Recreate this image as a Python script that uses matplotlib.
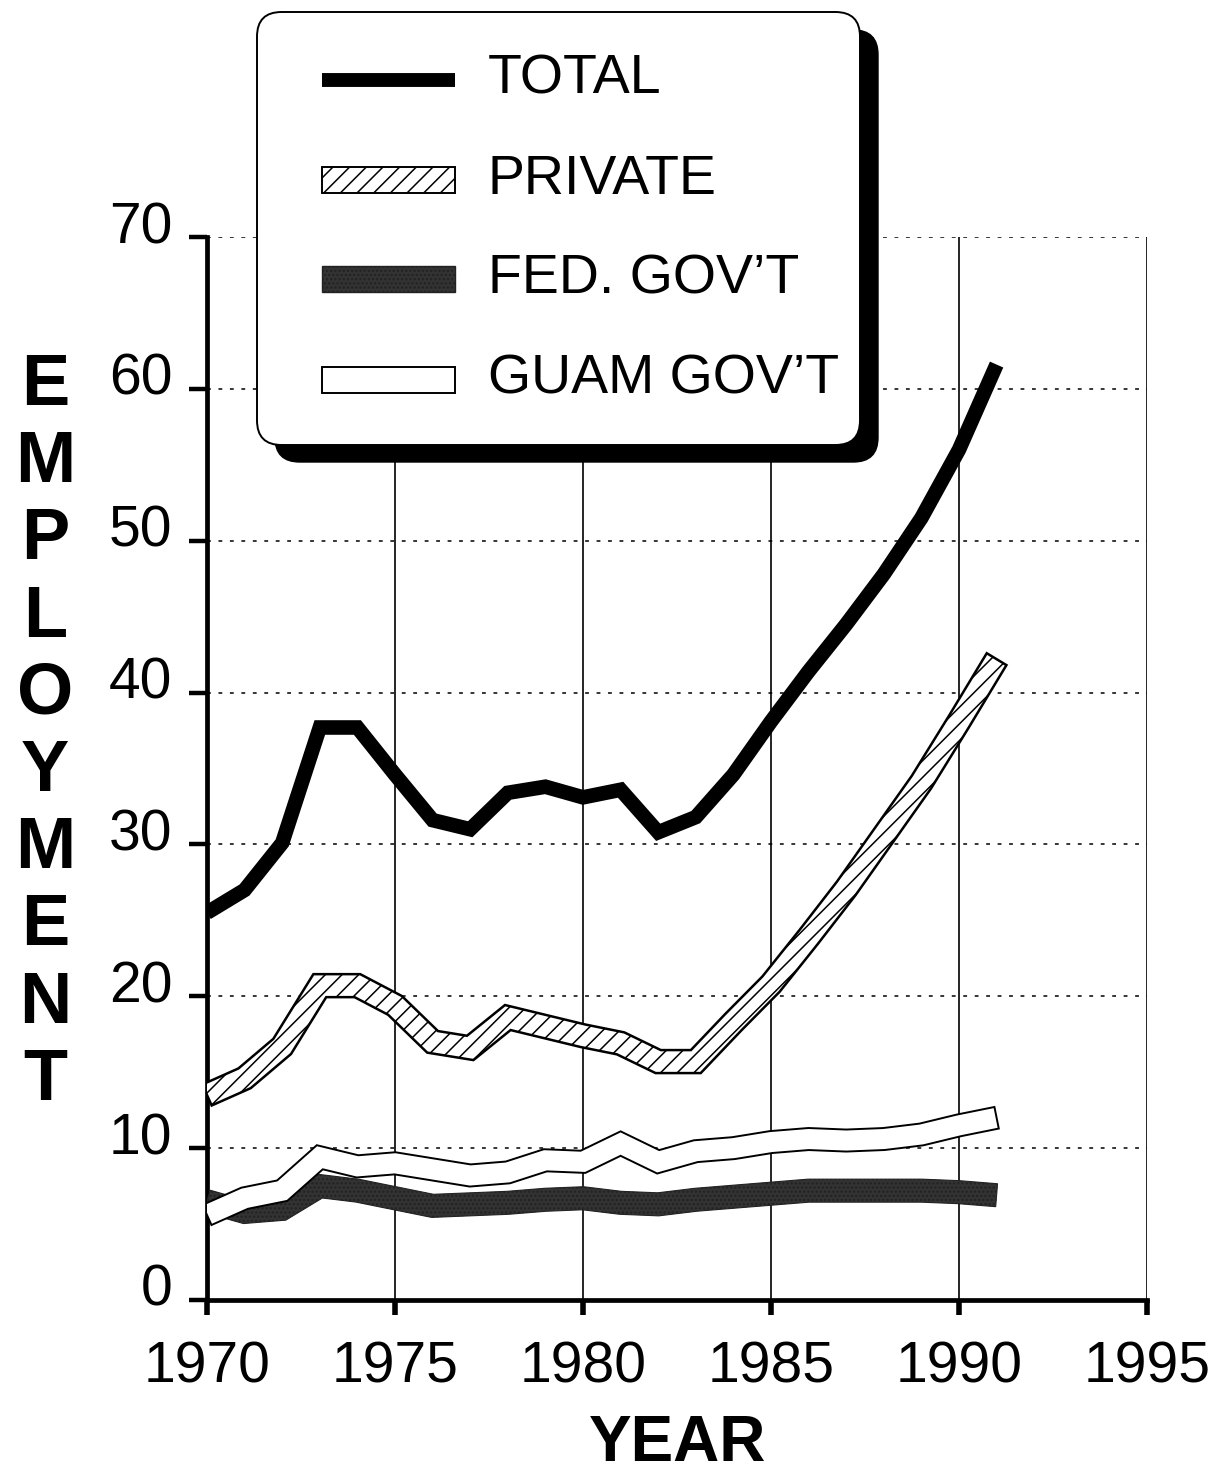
import numpy as np
import matplotlib
matplotlib.use("Agg")
import matplotlib.pyplot as plt
from matplotlib.patches import Polygon, FancyBboxPatch, Rectangle
from matplotlib.lines import Line2D
import matplotlib.transforms as mtransforms

plt.rcParams['font.family'] = ['Liberation Sans', 'DejaVu Sans']
plt.rcParams['hatch.linewidth'] = 1.1

# ============== data (thousands of jobs) ==============
years = np.arange(1970, 1992)
total = [25.5, 27.0, 30.1, 37.7, 37.7, 34.6, 31.6, 31.0, 33.4, 33.8, 33.1,
         33.6, 30.8, 31.8, 34.6, 38.1, 41.4, 44.5, 47.8, 51.5, 56.0, 61.6]
private = [13.5, 14.6, 16.7, 20.7, 20.7, 19.4, 17.0, 16.6, 18.6, 18.0, 17.4,
           16.9, 15.7, 15.7, 18.3, 20.8, 23.9, 27.1, 30.6, 34.1, 38.1, 42.2]
fed_gov = [6.5, 5.8, 6.0, 7.5, 7.2, 6.7, 6.2, 6.3, 6.4, 6.6, 6.7,
           6.4, 6.3, 6.6, 6.8, 7.0, 7.2, 7.2, 7.2, 7.2, 7.1, 6.9]
guam_gov = [5.6, 6.7, 7.2, 9.4, 8.8, 9.0, 8.6, 8.2, 8.4, 9.2, 9.1,
            10.3, 9.1, 9.8, 10.0, 10.4, 10.6, 10.5, 10.6, 10.9, 11.5, 12.0]

x_ticks = [1970, 1975, 1980, 1985, 1990, 1995]
y_ticks = [0, 10, 20, 30, 40, 50, 60, 70]
labels = ['TOTAL', 'PRIVATE', "FED. GOV\u2019T", "GUAM GOV\u2019T"]


def band(ax, xs, ys, width_px):
    # outline of a thick stroke, built in pixel space and mapped back to data
    pts = ax.transData.transform(np.column_stack([xs, ys]))
    n = len(pts)
    seg = np.diff(pts, axis=0)
    seg_n = np.column_stack([-seg[:, 1], seg[:, 0]])
    seg_n /= np.linalg.norm(seg_n, axis=1)[:, None]
    normals = np.zeros_like(pts)
    for i in range(n):
        if i == 0:
            nv = seg_n[0]
        elif i == n - 1:
            nv = seg_n[-1]
        else:
            nv = seg_n[i - 1] + seg_n[i]
            nv /= np.linalg.norm(nv)
            c = np.dot(nv, seg_n[i])
            nv = nv / max(c, 0.5)
        normals[i] = nv
    half = width_px / 2.0
    upper = pts + normals * half
    lower = pts - normals * half
    poly = np.vstack([upper, lower[::-1]])
    return ax.transData.inverted().transform(poly)


fig = plt.figure(figsize=(12.3, 14.77), dpi=100)
ax = fig.add_axes([207 / 1230, 1 - 1300 / 1477, 940 / 1230, 1063 / 1477])
ax.set_xlim(1970, 1995)
ax.set_ylim(0, 70)

# grid
for yv in y_ticks[1:]:
    ax.axhline(yv, color='black', lw=1.1, ls=(0, (2.5, 5)), zorder=1)
for xv in x_ticks[1:]:
    ax.axvline(xv, color='black', lw=1.2, zorder=1)

# fed gov't
fed_poly = band(ax, years, fed_gov, 23)
ax.add_patch(Polygon(fed_poly, closed=True, facecolor='#333333',
                     edgecolor='#222222', lw=0.8, hatch='....', zorder=3))

# guam gov't
guam_poly = band(ax, years, guam_gov, 22)
ax.add_patch(Polygon(guam_poly, closed=True, facecolor='white',
                     edgecolor='black', lw=1.4, zorder=4))

# private
priv_poly = band(ax, years, private, 23)
ax.add_patch(Polygon(priv_poly, closed=True, facecolor='white',
                     edgecolor='black', lw=1.8, hatch='//', zorder=5))

# total
ax.plot(years, total, color='black', lw=10.5, solid_joinstyle='miter',
        solid_capstyle='butt', zorder=6)

# axes styling
for s in ['top', 'right']:
    ax.spines[s].set_visible(False)
ax.spines['left'].set_linewidth(3.4)
ax.spines['bottom'].set_linewidth(3.4)
ax.set_xticks(x_ticks)
ax.set_yticks(y_ticks)
ax.tick_params(axis='y', length=13, width=3.2, pad=12, labelsize=41)
ax.tick_params(axis='x', length=11, width=4.0, pad=18, labelsize=41)
shift = mtransforms.ScaledTranslation(0, 15 / 100, fig.dpi_scale_trans)
for lab in ax.get_yticklabels():
    lab.set_transform(lab.get_transform() + shift)

fig.text(678 / 1230, 1 - 1461 / 1477, 'YEAR', ha='center', va='baseline',
         fontsize=46, fontweight='bold')

# stacked y label
letters = list('EMPLOYMENT')
for i, ch in enumerate(letters):
    yc = 386 + i * 77.2
    fig.text(45 / 1230, 1 - yc / 1477, ch, ha='center', va='center',
             fontsize=52, fontweight='heavy')

# ============== legend box ==============
W, H = 1230.0, 1477.0


def fx(px):
    return px / W


def fy(py):
    return 1 - py / H


shadow = FancyBboxPatch((fx(275), fy(462)), fx(878) - fx(275), fy(30) - fy(462),
                        boxstyle='round,pad=0,rounding_size=0.02',
                        transform=fig.transFigure, facecolor='black',
                        edgecolor='black', zorder=20, mutation_aspect=W / H)
box = FancyBboxPatch((fx(257), fy(445)), fx(860) - fx(257), fy(12) - fy(445),
                     boxstyle='round,pad=0,rounding_size=0.02',
                     transform=fig.transFigure, facecolor='white',
                     edgecolor='black', lw=1.4, zorder=21, mutation_aspect=W / H)
fig.patches.extend([shadow, box])

row_y = [80, 180, 279, 380]
fig.lines.append(Line2D([fx(322), fx(455)], [fy(row_y[0])] * 2, color='black',
                        lw=10, solid_capstyle='butt', transform=fig.transFigure,
                        zorder=22))
sw_h = 26
fig.patches.append(Rectangle((fx(322), fy(row_y[1] + sw_h / 2)), fx(455) - fx(322),
                             sw_h / H, transform=fig.transFigure, facecolor='white',
                             edgecolor='black', lw=1.4, hatch='//', zorder=22))
fig.patches.append(Rectangle((fx(322), fy(row_y[2] + sw_h / 2)), fx(455) - fx(322),
                             sw_h / H, transform=fig.transFigure, facecolor='#333333',
                             edgecolor='#222222', lw=1.0, hatch='....', zorder=22))
fig.patches.append(Rectangle((fx(322), fy(row_y[3] + sw_h / 2)), fx(455) - fx(322),
                             sw_h / H, transform=fig.transFigure, facecolor='white',
                             edgecolor='black', lw=1.4, zorder=22))
for lab, yy in zip(labels, row_y):
    fig.text(fx(488), fy(yy), lab, ha='left', va='center', fontsize=40, zorder=23)

fig.savefig('out.png', dpi=100, facecolor='white')
